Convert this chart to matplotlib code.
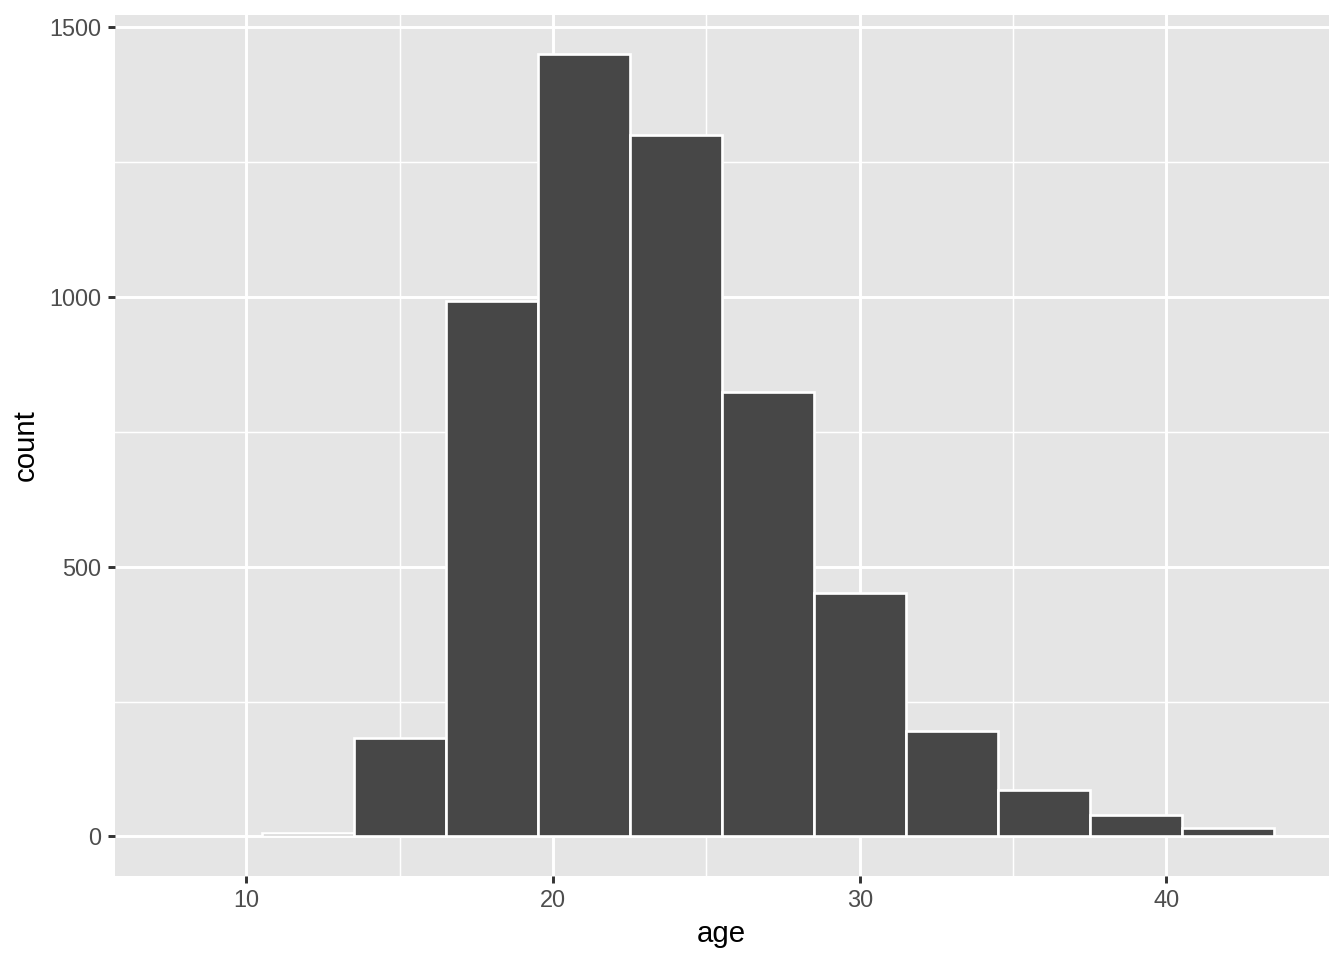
import matplotlib
matplotlib.use("Agg")
import matplotlib.pyplot as plt
import numpy as np

bin_edges = [7.5, 10.5, 13.5, 16.5, 19.5, 22.5, 25.5, 28.5, 31.5, 34.5, 37.5, 40.5, 43.5]
counts = [1, 6, 182, 992, 1450, 1300, 824, 452, 196, 86, 39, 15]
x_ticks = [10, 20, 30, 40]
y_ticks = [0, 500, 1000, 1500]

plt.rcParams['font.family'] = ['Liberation Sans', 'DejaVu Sans']

fig = plt.figure(figsize=(7, 5), dpi=192)
ax = fig.add_axes([114.5/1344, 1 - 875.5/960, (1329 - 114.5)/1344, (875.5 - 15)/960])
ax.set_facecolor('#E5E5E5')

edges = np.array(bin_edges)
lefts = edges[:-1]
widths = np.diff(edges)
ax.bar(lefts, counts, width=widths, align='edge', color='#474747',
       edgecolor='white', linewidth=1.0, zorder=3)

xmin, xmax = edges[0], edges[-1]
xr = xmax - xmin
ax.set_xlim(xmin - 0.05 * xr, xmax + 0.05 * xr)
ymax = max(counts)
ax.set_ylim(-0.05 * ymax, ymax * 1.05)

ax.set_xticks(x_ticks)
ax.set_yticks(y_ticks)
ax.set_xticks([15, 25, 35], minor=True)
ax.set_yticks([250, 750, 1250], minor=True)
ax.grid(which='major', color='white', linewidth=1.1, zorder=0)
ax.grid(which='minor', color='white', linewidth=0.55, zorder=0)
ax.set_axisbelow(True)

for s in ax.spines.values():
    s.set_visible(False)

ax.tick_params(axis='both', which='major', length=2.75, width=1.1, color='#333333',
               labelsize=8.8, labelcolor='#4D4D4D', pad=2.2)
ax.tick_params(axis='both', which='minor', length=0)

ax.set_xlabel('age', fontsize=11, color='black', labelpad=3)
ax.set_ylabel('count', fontsize=11, color='black', labelpad=3.5)

fig.savefig('out.png', dpi=192)
